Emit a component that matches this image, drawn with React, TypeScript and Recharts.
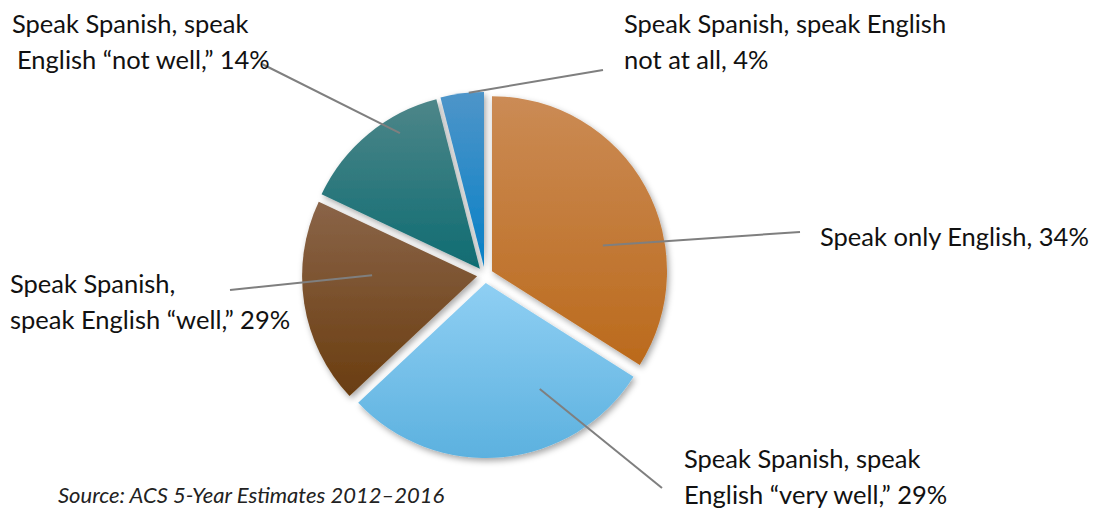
import React from "react";
import { PieChart, Pie, Cell } from "recharts";

// slices, clockwise from 12 o'clock
const CATEGORIES = [
  "Speak only English",
  "Speak Spanish, speak English “very well”",
  "Speak Spanish, speak English “well”",
  "Speak Spanish, speak English “not well”",
  "Speak Spanish, speak English not at all",
];
const VALUES = [34, 29, 19, 14, 4];
const LABEL_LINES = [
  ["Speak only English, 34%"],
  ["Speak Spanish, speak", "English “very well,” 29%"],
  ["Speak Spanish,", "speak English “well,” 29%"],
  ["Speak Spanish, speak", "English “not well,” 14%"],
  ["Speak Spanish, speak English", "not at all, 4%"],
];
const SOURCE = "Source: ACS 5-Year Estimates 2012–2016";

// top -> bottom gradient stops
const GRADIENTS = [
  ["#cb8b55", "#bb6a1c"],
  ["#8fcff3", "#5cb1df"],
  ["#8a6448", "#6a3d10"],
  ["#4d8689", "#0f6c72"],
  ["#4e95c9", "#0880c6"],
];

const W = 1097;
const H = 510;
const CX = 485;
const CY = 275;
const RADIUS = 175;
const EXPLODE = 8;
const FONT = "Lato, 'Open Sans', sans-serif";

// where each callout's text sits and where its leader line ends
const LABEL_LAYOUT = [
  { xs: [820], y: 246, end: [800, 232], angle: 13, frac: 0.65 },
  { xs: [684, 684], y: 468, end: [662, 488], angle: -63, frac: 0.68 },
  { xs: [10, 10], y: 293, end: [230, 290], angle: 179.5, frac: 0.6 },
  { xs: [12, 17], y: 33, end: [262, 64], angle: 120.5, frac: 0.9 },
  { xs: [624, 624], y: 33, end: [603, 70], angle: 95, frac: 1.0 },
];

const data = CATEGORIES.map((name, i) => ({ name, value: VALUES[i] }));
const total = VALUES.reduce((s, v) => s + v, 0);

// each slice gets its own pie, nudged out along its mid angle
const centers = VALUES.map((v, i) => {
  const before = VALUES.slice(0, i).reduce((s, x) => s + x, 0);
  const mid = ((90 - ((before + v / 2) / total) * 360) * Math.PI) / 180;
  return { cx: CX + EXPLODE * Math.cos(mid), cy: CY - EXPLODE * Math.sin(mid) };
});

const renderLabel = (props: any, slice: number) => {
  const { cx, cy, index, outerRadius } = props;
  if (index !== slice) return null;
  const L = LABEL_LAYOUT[slice];
  const rad = (L.angle * Math.PI) / 180;
  const r = outerRadius * L.frac;
  const ax = cx + r * Math.cos(rad);
  const ay = cy - r * Math.sin(rad);
  return (
    <g>
      <line x1={ax} y1={ay} x2={L.end[0]} y2={L.end[1]} stroke="#7f7f7f" strokeWidth={2} />
      {LABEL_LINES[slice].map((t, k) => (
        <text
          key={k}
          x={L.xs[k]}
          y={L.y + k * 36}
          fontSize={25.5}
          fontFamily={FONT}
          fill="#111"
          textAnchor="start"
        >
          {t}
        </text>
      ))}
    </g>
  );
};

export default function App() {
  return (
    <div style={{ width: W, height: H, background: "#fff" }}>
      <style>{"body{margin:0}"}</style>
      <PieChart width={W} height={H} margin={{ top: 0, right: 0, bottom: 0, left: 0 }}>
        <defs>
          {GRADIENTS.map((g, i) => (
            <linearGradient key={i} id={`grad${i}`} x1="0" y1="0" x2="0" y2="1">
              <stop offset="0%" stopColor={g[0]} />
              <stop offset="100%" stopColor={g[1]} />
            </linearGradient>
          ))}
          <filter id="shadow" x="-20%" y="-20%" width="140%" height="140%">
            <feDropShadow dx="2" dy="3" stdDeviation="3" floodColor="#000" floodOpacity="0.35" />
          </filter>
        </defs>
        {centers.map((c, slice) => (
          <Pie
            key={slice}
            data={data}
            dataKey="value"
            nameKey="name"
            cx={c.cx}
            cy={c.cy}
            outerRadius={RADIUS}
            startAngle={90}
            endAngle={-270}
            stroke="none"
            isAnimationActive={false}
            labelLine={false}
            label={(p: any) => renderLabel(p, slice)}
          >
            {data.map((d, i) =>
              i === slice ? (
                <Cell key={i} fill={`url(#grad${i})`} filter="url(#shadow)" />
              ) : (
                <Cell key={i} fill="none" />
              )
            )}
          </Pie>
        ))}
        <text x={58} y={503} fontSize={22} fontStyle="italic" fontFamily={FONT} fill="#222">
          {SOURCE}
        </text>
      </PieChart>
    </div>
  );
}
